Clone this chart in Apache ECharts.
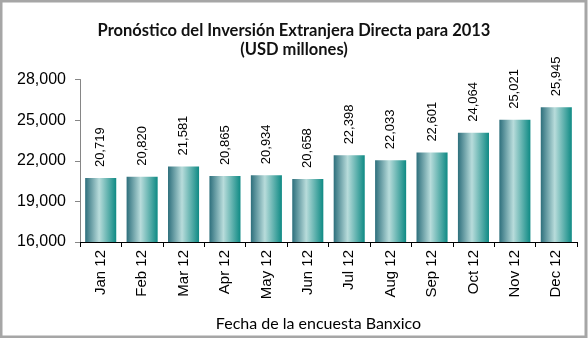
<!DOCTYPE html>
<html><head><meta charset="utf-8">
<script src="https://cdn.jsdelivr.net/npm/echarts@6/dist/echarts.min.js"></script>
<style>html,body{margin:0;padding:0;background:#fff}#c{width:588px;height:338px}</style>
</head><body><div id="c"></div>
<script>
var categories = ['Jan 12','Feb 12','Mar 12','Apr 12','May 12','Jun 12','Jul 12','Aug 12','Sep 12','Oct 12','Nov 12','Dec 12'];
var values = [20719,20820,21581,20865,20934,20658,22398,22033,22601,24064,25021,25945];
var yTicks = [16000,19000,22000,25000,28000];

var chart = echarts.init(document.getElementById('c'));
var fmt = function(v){ return Number(v).toLocaleString('en-US'); };
chart.setOption({
  animation:false,
  backgroundColor:'#fff',
  title:{
    text:'Pronóstico del Inversión Extranjera Directa para 2013\n(USD millones)',
    left:'center', top:16,
    textStyle:{fontFamily:'Lato', fontSize:16.5, fontWeight:'bold', color:'#111', lineHeight:19}
  },
  graphic:[{type:'rect', shape:{x:1,y:1,width:585,height:336}, style:{fill:'none', stroke:'#a6a6a6', lineWidth:3}, z:100}],
  grid:{left:80, right:11, top:79.5, bottom:96},
  xAxis:{
    type:'category', data:categories,
    name:'Fecha de la encuesta Banxico', nameLocation:'middle', nameGap:74,
    nameTextStyle:{fontFamily:'Lato', fontSize:16, color:'#000', padding:[0,20,0,0]},
    axisLine:{lineStyle:{color:'#000', width:1}},
    axisTick:{show:true, alignWithLabel:false, length:5, lineStyle:{color:'#000'}},
    axisLabel:{rotate:90, fontFamily:'Liberation Sans', fontSize:15, color:'#000', margin:8}
  },
  yAxis:{
    type:'value', min:yTicks[0], max:yTicks[yTicks.length-1], interval:3000,
    axisLine:{show:true, lineStyle:{color:'#868686'}},
    axisTick:{show:true, length:5, lineStyle:{color:'#868686'}},
    splitLine:{show:false},
    axisLabel:{fontFamily:'Liberation Sans', fontSize:16, color:'#000', margin:14, formatter:fmt}
  },
  series:[{
    type:'bar', data:values, barCategoryGap:'25%',
    itemStyle:{color:new echarts.graphic.LinearGradient(0,0,1,0,[
      {offset:0,color:'#2d6f7c'},{offset:0.45,color:'#b8dcdb'},{offset:1,color:'#0e8a84'}])},
    label:{show:true, position:'top', rotate:90, align:'left', verticalAlign:'middle', distance:11,
      fontFamily:'Liberation Sans', fontSize:13, color:'#000', formatter:function(p){return fmt(p.value);}}
  }]
});
</script></body></html>
